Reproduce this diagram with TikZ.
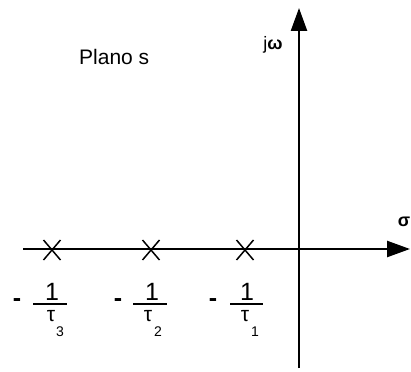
\documentclass[tikz,border=0pt]{standalone}
\usepackage{fontspec}
\setmainfont{Liberation Sans}
\usetikzlibrary{arrows.meta,calc}
\begin{document}
\begin{tikzpicture}[x=1pt,y=-1pt,
  axis/.style={line width=2.4pt,-{Triangle[length=23pt,width=16pt]}},
  pole/.style={line width=1.5pt},
  fracbar/.style={line width=2pt},
  big/.style={inner sep=0pt,font=\fontsize{25}{28}\selectfont},
  taus/.style={inner sep=0pt,font=\fontsize{21}{24}\selectfont},
  plano/.style={inner sep=0pt,font=\fontsize{21}{24}\selectfont},
  sub/.style={inner sep=0pt,font=\fontsize{14}{16}\selectfont},
  lbl/.style={inner sep=0pt,font=\fontsize{18}{20}\selectfont}]
\useasboundingbox (0,0) rectangle (411,371);
% axes
\coordinate (hL) at (23,249);
\coordinate (hR) at (410,249);
\coordinate (vB) at (299,368);
\coordinate (vT) at (299,8);
\draw[axis] (hL) -- (hR);
\draw[axis] (vB) -- (vT);
% labels
\node[plano,anchor=west] (plano) at (79,57) {Plano s};
\node[lbl] (jw) at (273,45) {j\textbf{ω}};
\node[lbl,anchor=east] (sigma) at (410.5,222) {\textbf{σ}};
% poles
\foreach \n/\x in {p3/52,p2/151,p1/245}{
  \coordinate (\n) at (\x,250);
  \draw[pole] ($(\n)+(-8.5,-10)$) -- ($(\n)+(8.5,10)$);
  \draw[pole] ($(\n)+(-8.5,10)$) -- ($(\n)+(8.5,-10)$);
}
% fractions
\foreach \i/\m/\a/\b/\c/\t/\s in {3/17/33/67/52/51/60, 2/118/133/167/152/148/158, 1/213/230/263/247/245/255}{
  \node[big] (m\i) at (\m,303) {\textbf{-}};
  \coordinate (fa\i) at (\a,304);
  \coordinate (fb\i) at (\b,304);
  \draw[fracbar] (fa\i) -- (fb\i);
  \node[big] (one\i) at (\c,292) {1};
  \node[taus] (tau\i) at (\t,316) {τ};
  \node[sub] (s\i) at (\s,332) {\i};
}
\end{tikzpicture}
\end{document}
